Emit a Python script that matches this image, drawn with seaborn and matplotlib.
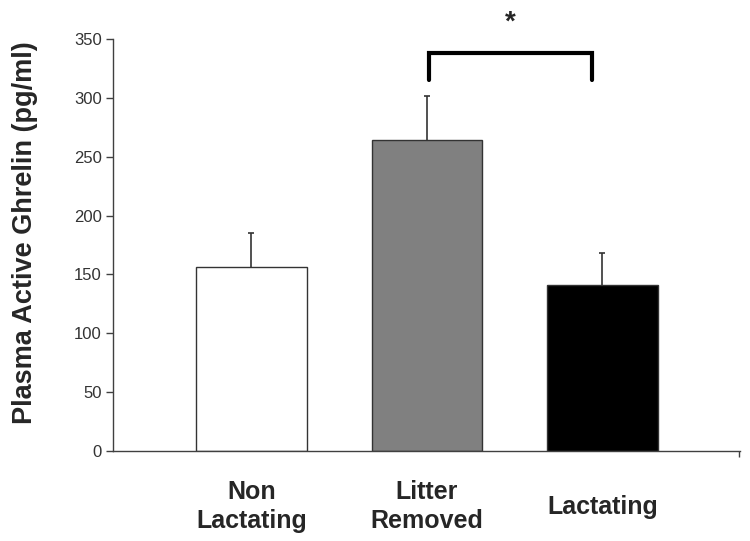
import seaborn as sns
import matplotlib.pyplot as plt
import pandas as pd

groups = ["Non\nLactating", "Litter\nRemoved", "Lactating"]
ghrelin = [156.5, 264.0, 141.0]
sem = [28.5, 37.5, 27.0]
bar_colors = ["#ffffff", "#808080", "#000000"]

sns.set_style("white")
plt.rcParams['font.family'] = ['Liberation Sans', 'DejaVu Sans']

df = pd.DataFrame({"group": groups, "ghrelin": ghrelin})

fig = plt.figure(figsize=(7.5, 5.41), dpi=100)
ax = fig.add_axes([0.1507, 0.1664, 0.836, 0.7616])

sns.barplot(data=df, x="group", y="ghrelin", hue="group", palette=bar_colors,
            width=0.63, edgecolor="#333333", linewidth=1, legend=False, ax=ax)

# one-sided (upper) error bars
eb = ax.errorbar(range(len(groups)), ghrelin, yerr=[[0] * len(sem), sem], fmt="none",
                 ecolor="#333333", elinewidth=1.2, capsize=2.5, capthick=1.2, zorder=3)
eb[1][0].set_visible(False)  # hide lower caps

ax.set_xlim(-0.789, 2.784)
ax.set_ylim(0, 350)
ax.set_yticks(range(0, 351, 50))
ax.set_xlabel("")
ax.set_ylabel("Plasma Active Ghrelin (pg/ml)", fontsize=19.5, fontweight="bold")
ax.yaxis.set_label_coords(-0.12, 0.53)

for s in ["top", "right"]:
    ax.spines[s].set_visible(False)
for s in ["left", "bottom"]:
    ax.spines[s].set_color("#404040")
    ax.spines[s].set_linewidth(1)

ax.tick_params(axis="y", direction="out", length=5, width=1, color="#404040",
               labelsize=12, labelcolor="#333333", pad=3, left=True)
ax.tick_params(axis="x", length=0, pad=40, labelsize=18)
ax.set_xticks(range(len(groups)))
ax.set_xticklabels(groups, fontweight="bold", va="center", linespacing=1.3)
ax.set_xticks([2.78], minor=True)
ax.tick_params(axis="x", which="minor", direction="out", length=4, width=1,
               color="#404040", bottom=True)

# significance bracket
ax.plot([1.01, 1.01, 1.94, 1.94], [315, 337.7, 337.7, 315], color="black",
        lw=3, clip_on=False, solid_joinstyle="miter")
ax.text(1.473, 364, "*", ha="center", va="center", fontsize=20,
        fontweight="bold", clip_on=False)

fig.savefig("out.png", dpi=100)
